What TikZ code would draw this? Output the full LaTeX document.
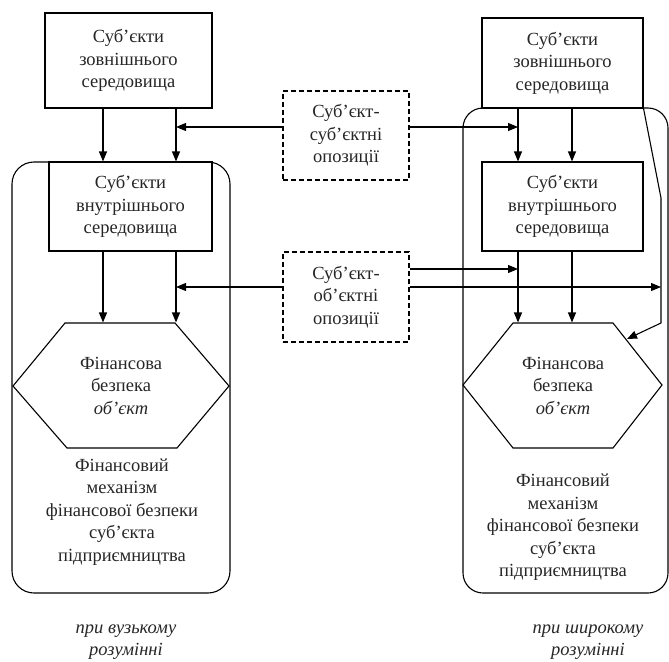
\documentclass[tikz,border=0pt]{standalone}
\usepackage{fontspec}
\setmainfont{Liberation Serif}
\usetikzlibrary{arrows.meta}
\begin{document}
\begin{tikzpicture}[x=1pt,y=-1pt,
  line width=1.1pt,
  txt/.style={align=center,font=\fontsize{18.5}{22.5}\selectfont,text=black!85,inner sep=0pt},
  solidbox/.style={draw,txt,minimum width=#1,inner sep=0pt},
  dashbox/.style={draw,dashed,dash pattern=on 5pt off 3pt,txt,minimum width=126pt,inner sep=0pt},
  arr/.style={-{Triangle[length=10pt,width=8pt]}},
  frame/.style={draw,rounded corners=22pt}
]
\useasboundingbox (0,0) rectangle (669,661);

% ---------- left (narrow) ----------
\node[solidbox=167pt,minimum height=95pt] (ext1) at (128.5,60.5) {Суб’єкти\\зовнішнього\\середовища};
\draw[frame] (12,162) rectangle (230,593);
\node[solidbox=163pt,minimum height=89pt,fill=white] (int1) at (130.5,206.5) {Суб’єкти\\внутрішнього\\середовища};
\draw (13,386) -- (65,323) -- (175,323) -- (229,386) -- (177,448) -- (67,448) -- cycle;
\node[txt,minimum width=110pt,minimum height=125pt] (hex1) at (121,385.5) {Фінансова\\безпека\\\textit{об’єкт}};
\node[txt] (mech1) at (122,512) {Фінансовий\\механізм\\фінансової безпеки\\суб’єкта\\підприємництва};
\node[txt] (cap1) at (126,642) {\textit{при вузькому}\\\textit{розумінні}};

% ---------- middle ----------
\node[dashbox,minimum height=89pt] (opp1) at (346,135.5) {Суб’єкт-\\суб’єктні\\опозиції};
\node[dashbox,minimum height=90pt] (opp2) at (346,297) {Суб’єкт-\\об’єктні\\опозиції};

% ---------- right (broad) ----------
\draw[frame,rounded corners=20pt] (463,108) rectangle (668,593);
\node[solidbox=161pt,minimum height=90pt,fill=white] (ext2) at (562.5,63) {Суб’єкти\\зовнішнього\\середовища};
\node[solidbox=161pt,minimum height=89pt] (int2) at (562.5,206.5) {Суб’єкти\\внутрішнього\\середовища};
\draw (463,385) -- (513,323) -- (613,323) -- (662,385) -- (613,448) -- (513,448) -- cycle;
\node[txt,minimum width=100pt,minimum height=125pt] (hex2) at (563,385.5) {Фінансова\\безпека\\\textit{об’єкт}};
\node[txt] (mech2) at (563,527.5) {Фінансовий\\механізм\\фінансової безпеки\\суб’єкта\\підприємництва};
\node[txt] (cap2) at (588,642) {\textit{при широкому}\\\textit{розумінні}};

% ---------- connectors left ----------
\draw[arr] (ext1.south -| 103,0) -- (int1.north -| 103,0);
\draw[arr] (ext1.south -| 176,0) -- (int1.north -| 176,0);
\draw[arr] (opp1.west |- 0,127) -- (176,127);
\draw[arr] (int1.south -| 103,0) -- (hex1.north -| 103,0);
\draw[arr] (int1.south -| 176,0) -- (hex1.north -| 176,0);
\draw[arr] (opp2.west |- 0,287) -- (176,287);

% ---------- connectors right ----------
\draw[arr] (ext2.south -| 518,0) -- (int2.north -| 518,0);
\draw[arr] (ext2.south -| 572,0) -- (int2.north -| 572,0);
\draw[arr] (opp1.east |- 0,127) -- (518,127);
\draw[arr] (int2.south -| 518,0) -- (hex2.north -| 518,0);
\draw[arr] (int2.south -| 572,0) -- (hex2.north -| 572,0);
\draw[arr] (opp2.east |- 0,269) -- (518,269);
\draw[arr] (opp2.east |- 0,287) -- (661,287);
\coordinate (r1) at (661,198);
\coordinate (r2) at (661,323);
\coordinate (hexin) at (627,339);
\draw[arr] (ext2.south east) -- (r1) -- (r2) -- (hexin);
\end{tikzpicture}
\end{document}
